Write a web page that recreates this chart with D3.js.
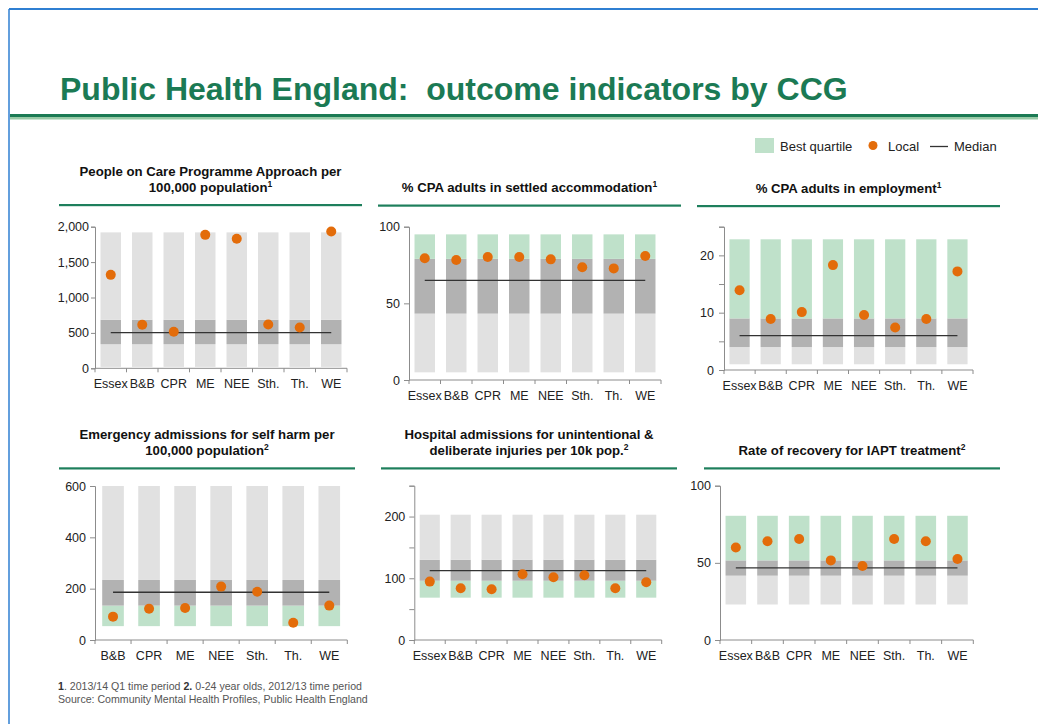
<!DOCTYPE html>
<html>
<head>
<meta charset="utf-8">
<script src="https://cdn.jsdelivr.net/npm/d3@7"></script>
<style>
  html, body { margin: 0; padding: 0; background: #fff; }
  svg { display: block; font-family: Arial, "Liberation Sans", sans-serif; }
  .pre { white-space: pre; }
</style>
</head>
<body>
<svg id="chart" width="1038" height="724"></svg>
<script>
// ---------------- DATA ----------------
const cats8 = ["Essex", "B&B", "CPR", "ME", "NEE", "Sth.", "Th.", "WE"];
const cats7 = ["B&B", "CPR", "ME", "NEE", "Sth.", "Th.", "WE"];

// bounds = [minimum, lower quartile, upper quartile, maximum]
const p1Title = ["People on Care Programme Approach per", "100,000 population"];
const p1Note = "1";
const p1Local = [1320, 615, 515, 1885, 1830, 618, 576, 1933];
const p1Bounds = [20, 340, 685, 1920];
const p1Median = 505;
const p1Ticks = [0, 500, 1000, 1500, 2000];
const p1Labels = [0, 500, 1000, 1500, 2000];
const p1Best = "none";

const p2Title = ["% CPA adults in settled accommodation"];
const p2Note = "1";
const p2Local = [79.4, 78.3, 80.2, 80.2, 78.7, 73.5, 72.8, 80.9];
const p2Bounds = [5, 43.3, 79, 95];
const p2Median = 65;
const p2Ticks = [0, 50, 100];
const p2Labels = [0, 50, 100];
const p2Best = "high";

const p3Title = ["% CPA adults in employment"];
const p3Note = "1";
const p3Local = [13.9, 8.9, 10.1, 18.3, 9.6, 7.4, 8.9, 17.2];
const p3Bounds = [1, 4, 9, 22.8];
const p3Median = 6;
const p3Ticks = [0, 5, 10, 15, 20, 25];
const p3Labels = [0, 10, 20];
const p3Best = "high";

const p4Title = ["Emergency admissions for self harm per", "100,000 population"];
const p4Note = "2";
const p4Local = [91, 122, 125, 208, 188, 67, 134];
const p4Bounds = [54, 134, 234, 600];
const p4Median = 186;
const p4Ticks = [0, 200, 400, 600];
const p4Labels = [0, 200, 400, 600];
const p4Best = "low";

const p5Title = ["Hospital admissions for unintentional &", "deliberate injuries per 10k pop."];
const p5Note = "2";
const p5Local = [94.6, 83.8, 82.2, 106.5, 101.6, 104.9, 83.8, 93.5];
const p5Bounds = [68.6, 96, 130, 203];
const p5Median = 112.4;
const p5Ticks = [0, 50, 100, 150, 200, 250];
const p5Labels = [0, 100, 200];
const p5Best = "low";

const p6Title = ["Rate of recovery for IAPT treatment"];
const p6Note = "2";
const p6Local = [60, 64, 65.5, 51.6, 48, 65.5, 64, 52.5];
const p6Bounds = [23, 41.7, 51.6, 80.5];
const p6Median = 46.7;
const p6Ticks = [0, 50, 100];
const p6Labels = [0, 50, 100];
const p6Best = "high";

const legendLabels = ["Best quartile", "Local", "Median"];
const mainTitle = "Public Health England:  outcome indicators by CCG";

// ---------------- STYLE / LAYOUT ----------------
const C = {
  green: "#1b7a54", greenLight: "#98c9a6", rule: "#1e7f5c",
  blue: "#2f7fd2",
  lightGray: "#e1e1e1", darkGray: "#b2b2b2", best: "#bfe1ca",
  orange: "#e36c0a", median: "#333333", axis: "#8c8c8c", text: "#222"
};

const panels = [
  { title: p1Title, note: p1Note, cats: cats8, local: p1Local, bounds: p1Bounds, median: p1Median, ticks: p1Ticks, labels: p1Labels, best: p1Best, max: 2000,
    x0: 95, x1: 347, y0: 368.3, y1: 226.7, rx0: 59, rx1: 362, ry: 205, pad: 0.35, tickSize: 4, tickPad: 2 },
  { title: p2Title, note: p2Note, cats: cats8, local: p2Local, bounds: p2Bounds, median: p2Median, ticks: p2Ticks, labels: p2Labels, best: p2Best, max: 100,
    x0: 409, x1: 661, y0: 380, y1: 226.7, rx0: 378, rx1: 681, ry: 205.5, pad: 0.35, tickSize: 5, tickPad: 4 },
  { title: p3Title, note: p3Note, cats: cats8, local: p3Local, bounds: p3Bounds, median: p3Median, ticks: p3Ticks, labels: p3Labels, best: p3Best, max: 25,
    x0: 724, x1: 973, y0: 370, y1: 226.7, rx0: 697, rx1: 1000, ry: 206, pad: 0.35, tickSize: 5, tickPad: 5 },
  { title: p4Title, note: p4Note, cats: cats7, local: p4Local, bounds: p4Bounds, median: p4Median, ticks: p4Ticks, labels: p4Labels, best: p4Best, max: 600,
    x0: 95, x1: 347.3, y0: 640, y1: 486, rx0: 59, rx1: 355, ry: 468.3, pad: 0.4, tickSize: 5, tickPad: 4 },
  { title: p5Title, note: p5Note, cats: cats8, local: p5Local, bounds: p5Bounds, median: p5Median, ticks: p5Ticks, labels: p5Labels, best: p5Best, max: 250,
    x0: 414.3, x1: 661.7, y0: 640, y1: 485.7, rx0: 381, rx1: 677, ry: 468.3, pad: 0.35, tickSize: 5, tickPad: 4 },
  { title: p6Title, note: p6Note, cats: cats8, local: p6Local, bounds: p6Bounds, median: p6Median, ticks: p6Ticks, labels: p6Labels, best: p6Best, max: 100,
    x0: 720, x1: 973.3, y0: 640, y1: 485.7, rx0: 704, rx1: 1000, ry: 468.3, pad: 0.35, tickSize: 5, tickPad: 4 }
];

const svg = d3.select("#chart");

// page frame
svg.append("line").attr("x1", 9).attr("x2", 1038).attr("y1", 9).attr("y2", 9)
  .attr("stroke", C.blue).attr("stroke-width", 2);
svg.append("line").attr("x1", 9).attr("x2", 9).attr("y1", 9).attr("y2", 724)
  .attr("stroke", C.blue).attr("stroke-width", 1.5);

// main title
svg.append("text").attr("class", "pre").attr("x", 60).attr("y", 100)
  .attr("font-size", 32).attr("font-weight", "bold").attr("fill", C.green)
  .text(mainTitle);
svg.append("rect").attr("x", 10).attr("y", 114).attr("width", 1028).attr("height", 3).attr("fill", C.green);
svg.append("rect").attr("x", 10).attr("y", 117).attr("width", 1028).attr("height", 2.5).attr("fill", C.greenLight);

// legend
const lg = svg.append("g").attr("font-size", 13).attr("fill", C.text);
lg.append("rect").attr("x", 755).attr("y", 138).attr("width", 19).attr("height", 15).attr("fill", C.best);
lg.append("text").attr("x", 780).attr("y", 151).text(legendLabels[0]);
lg.append("circle").attr("cx", 873).attr("cy", 145.5).attr("r", 4.5).attr("fill", C.orange);
lg.append("text").attr("x", 888).attr("y", 151).text(legendLabels[1]);
lg.append("line").attr("x1", 930).attr("x2", 948).attr("y1", 146.5).attr("y2", 146.5).attr("stroke", C.median).attr("stroke-width", 1.3);
lg.append("text").attr("x", 954).attr("y", 151).text(legendLabels[2]);

// panels
panels.forEach(p => {
  const g = svg.append("g");
  const x = d3.scaleBand().domain(p.cats).range([p.x0, p.x1])
    .paddingInner(p.pad).paddingOuter(p.pad / 2);
  const y = d3.scaleLinear().domain([0, p.max]).range([p.y0, p.y1]);

  // title
  const cx = (p.rx0 + p.rx1) / 2;
  const n = p.title.length;
  p.title.forEach((t, i) => {
    const tx = g.append("text").attr("x", cx).attr("y", p.ry - 13.5 - (n - 1 - i) * 15.5)
      .attr("text-anchor", "middle").attr("font-size", 13.2).attr("font-weight", "bold")
      .attr("fill", "#111");
    tx.append("tspan").text(t);
    if (i === n - 1) {
      tx.append("tspan").attr("font-size", 8.5).attr("dy", -5).text(p.note);
    }
  });
  g.append("rect").attr("x", p.rx0).attr("y", p.ry - 1).attr("width", p.rx1 - p.rx0).attr("height", 2.2)
    .attr("fill", C.rule);

  // bars (three stacked segments)
  const segs = [
    { a: p.bounds[0], b: p.bounds[1], c: p.best === "low" ? C.best : C.lightGray },
    { a: p.bounds[1], b: p.bounds[2], c: C.darkGray },
    { a: p.bounds[2], b: p.bounds[3], c: p.best === "high" ? C.best : C.lightGray }
  ];
  segs.forEach(s => {
    g.selectAll(null).data(p.cats).enter().append("rect")
      .attr("x", d => x(d)).attr("width", x.bandwidth())
      .attr("y", y(s.b)).attr("height", y(s.a) - y(s.b))
      .attr("fill", s.c);
  });

  // median line
  g.append("line")
    .attr("x1", x(p.cats[0]) + x.bandwidth() / 2)
    .attr("x2", x(p.cats[p.cats.length - 1]) + x.bandwidth() / 2)
    .attr("y1", y(p.median)).attr("y2", y(p.median))
    .attr("stroke", C.median).attr("stroke-width", 1.3);

  // local dots
  g.selectAll(null).data(p.cats).enter().append("circle")
    .attr("cx", d => x(d) + x.bandwidth() / 2)
    .attr("cy", (d, i) => y(p.local[i]))
    .attr("r", 5).attr("fill", C.orange);

  // y axis
  const fmt = d3.format(",");
  const ya = g.append("g").attr("transform", `translate(${p.x0},0)`)
    .call(d3.axisLeft(y).tickValues(p.ticks).tickSize(p.tickSize).tickPadding(p.tickPad)
      .tickFormat(v => p.labels.includes(v) ? fmt(v) : ""));
  ya.select(".domain").attr("stroke", C.axis);
  ya.selectAll(".tick line").attr("stroke", C.axis);
  ya.selectAll(".tick text").attr("font-size", 12.5).attr("fill", C.text).attr("font-family", null);

  // x axis: labels and separator ticks at band boundaries
  const xa = g.append("g").attr("transform", `translate(0,${p.y0})`)
    .call(d3.axisBottom(x).tickSize(0).tickPadding(11));
  xa.select(".domain").remove();
  xa.selectAll(".tick text").attr("font-size", 12.5).attr("fill", C.text).attr("font-family", null);
  g.append("line").attr("x1", p.x0).attr("x2", p.x1).attr("y1", p.y0).attr("y2", p.y0)
    .attr("stroke", C.axis);
  const step = x.step();
  const bounds = p.cats.map(d => x(d) - step * p.pad / 2).concat([x(p.cats[p.cats.length - 1]) + x.bandwidth() + step * p.pad / 2]);
  g.selectAll(null).data(bounds).enter().append("line")
    .attr("x1", d => d).attr("x2", d => d).attr("y1", p.y0).attr("y2", p.y0 + 4)
    .attr("stroke", C.axis);
});

// footnotes
const fn = svg.append("g").attr("font-size", 10.6).attr("fill", "#555");
const l1 = fn.append("text").attr("class", "pre").attr("x", 58).attr("y", 690);
l1.append("tspan").attr("font-weight", "bold").attr("fill", "#333").text("1");
l1.append("tspan").text(". 2013/14 Q1 time period ");
l1.append("tspan").attr("font-weight", "bold").attr("fill", "#333").text("2.");
l1.append("tspan").text(" 0-24 year olds, 2012/13 time period");
fn.append("text").attr("x", 58).attr("y", 702.5).text("Source: Community Mental Health Profiles, Public Health England");
</script>
</body>
</html>
